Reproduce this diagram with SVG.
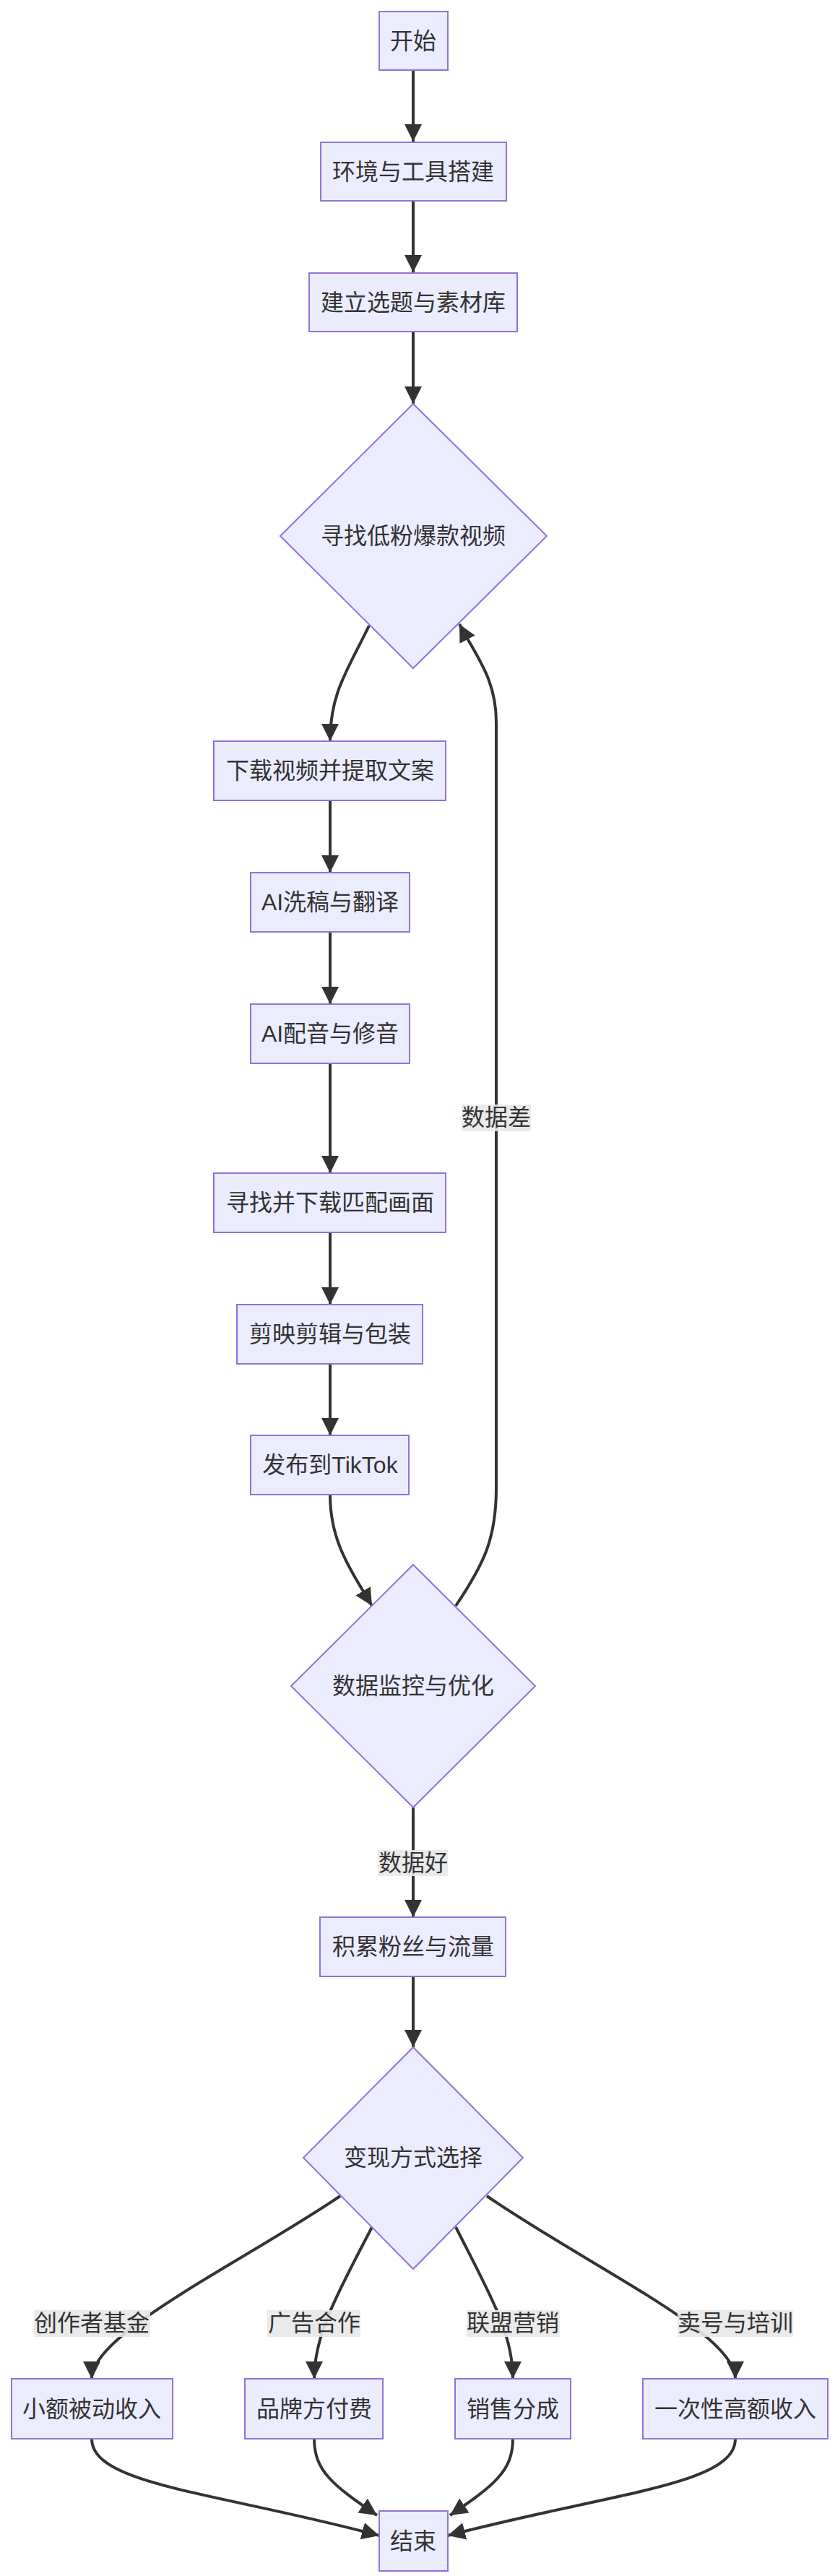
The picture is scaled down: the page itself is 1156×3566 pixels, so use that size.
<svg xmlns="http://www.w3.org/2000/svg" width="1156" height="3566" viewBox="0 0 1156 3566">
<style>
.n{fill:#ECECFF;stroke:#9370DB;stroke-width:2}
.t{font-family:"Liberation Sans","Noto Sans CJK SC",sans-serif;font-size:32px;fill:#333;text-anchor:middle}
.e{fill:none;stroke:#333;stroke-width:4;marker-end:url(#a)}
.lb{fill:#e8e8e8;opacity:0.9}
</style>
<defs><marker id="a" viewBox="0 0 10 10" refX="10" refY="5" markerWidth="24" markerHeight="24" markerUnits="userSpaceOnUse" orient="auto"><path d="M0,0L10,5L0,10z" fill="#333"/></marker></defs>
<rect width="1156" height="3566" fill="#fff"/>
<g id="edges">
<path class="e" d="M572,98V196"/>
<path class="e" d="M572,279V377"/>
<path class="e" d="M572,460V559"/>
<path class="e" d="M511,866C480,930 457,960 457,1026"/>
<path class="e" d="M457,1108V1208"/>
<path class="e" d="M457,1290V1390"/>
<path class="e" d="M457,1472V1624"/>
<path class="e" d="M457,1706V1806"/>
<path class="e" d="M457,1888V1987"/>
<path class="e" d="M457,2069C457,2130 480,2165 515,2223"/>
<path class="e" d="M631,2223C670,2165 687,2130 687,2060V1000C687,940 660,910 636,864"/>
<path class="e" d="M572,2502V2654"/>
<path class="e" d="M572,2736V2834"/>
<path class="e" d="M471,3040C330,3135 127,3230 127,3293"/>
<path class="e" d="M515,3083C470,3170 435,3230 435,3293"/>
<path class="e" d="M631,3083C680,3180 710,3230 710,3293"/>
<path class="e" d="M674,3040C820,3140 1018,3230 1018,3293"/>
<path class="e" d="M127,3376C127,3440 300,3450 525,3510"/>
<path class="e" d="M435,3376C435,3420 460,3440 522,3482"/>
<path class="e" d="M710,3376C710,3420 685,3440 623,3482"/>
<path class="e" d="M1018,3376C1018,3440 850,3450 620,3510"/>
</g>
<g id="labels">
<rect class="lb" x="639" y="1529" width="96" height="37"/><text class="t" x="687" y="1558">数据差</text>
<rect class="lb" x="523" y="2561" width="97" height="36"/><text class="t" x="572" y="2590">数据好</text>
<rect class="lb" x="47" y="3198" width="161" height="37"/><text class="t" x="127" y="3227">创作者基金</text>
<rect class="lb" x="370" y="3198" width="129" height="37"/><text class="t" x="435" y="3227">广告合作</text>
<rect class="lb" x="646" y="3198" width="129" height="37"/><text class="t" x="710" y="3227">联盟营销</text>
<rect class="lb" x="938" y="3198" width="160" height="37"/><text class="t" x="1018" y="3227">卖号与培训</text>
</g>
<g id="start"><rect class="n" x="525" y="16" width="95" height="81"/><text class="t" x="572" y="68">开始</text></g>
<g id="env"><rect class="n" x="444" y="197" width="257" height="81"/><text class="t" x="572" y="249">环境与工具搭建</text></g>
<g id="lib"><rect class="n" x="428" y="378" width="288" height="81"/><text class="t" x="572" y="430">建立选题与素材库</text></g>
<g id="find"><polygon class="n" points="572,559 757,742 572,925 388,742"/><text class="t" x="572" y="753">寻找低粉爆款视频</text></g>
<g id="dl"><rect class="n" x="296" y="1026" width="321" height="82"/><text class="t" x="457" y="1078">下载视频并提取文案</text></g>
<g id="wash"><rect class="n" x="347" y="1208" width="220" height="82"/><text class="t" x="457" y="1260">AI洗稿与翻译</text></g>
<g id="voice"><rect class="n" x="347" y="1390" width="220" height="82"/><text class="t" x="457" y="1442">AI配音与修音</text></g>
<g id="footage"><rect class="n" x="296" y="1624" width="321" height="82"/><text class="t" x="457" y="1676">寻找并下载匹配画面</text></g>
<g id="edit"><rect class="n" x="328" y="1806" width="257" height="82"/><text class="t" x="457" y="1858">剪映剪辑与包装</text></g>
<g id="pub"><rect class="n" x="347" y="1987" width="219" height="82"/><text class="t" x="457" y="2039">发布到TikTok</text></g>
<g id="monitor"><polygon class="n" points="572,2166 741,2334 572,2502 403,2334"/><text class="t" x="572" y="2345">数据监控与优化</text></g>
<g id="fans"><rect class="n" x="443" y="2654" width="257" height="82"/><text class="t" x="572" y="2706">积累粉丝与流量</text></g>
<g id="mon"><polygon class="n" points="572,2834 724,2987 572,3141 420,2987"/><text class="t" x="572" y="2998">变现方式选择</text></g>
<g id="r1"><rect class="n" x="16" y="3293" width="223" height="83"/><text class="t" x="127" y="3346">小额被动收入</text></g>
<g id="r2"><rect class="n" x="339" y="3293" width="191" height="83"/><text class="t" x="435" y="3346">品牌方付费</text></g>
<g id="r3"><rect class="n" x="630" y="3293" width="160" height="83"/><text class="t" x="710" y="3346">销售分成</text></g>
<g id="r4"><rect class="n" x="890" y="3293" width="256" height="83"/><text class="t" x="1018" y="3346">一次性高额收入</text></g>
<g id="end"><rect class="n" x="525" y="3476" width="95" height="83"/><text class="t" x="572" y="3529">结束</text></g>
</svg>
